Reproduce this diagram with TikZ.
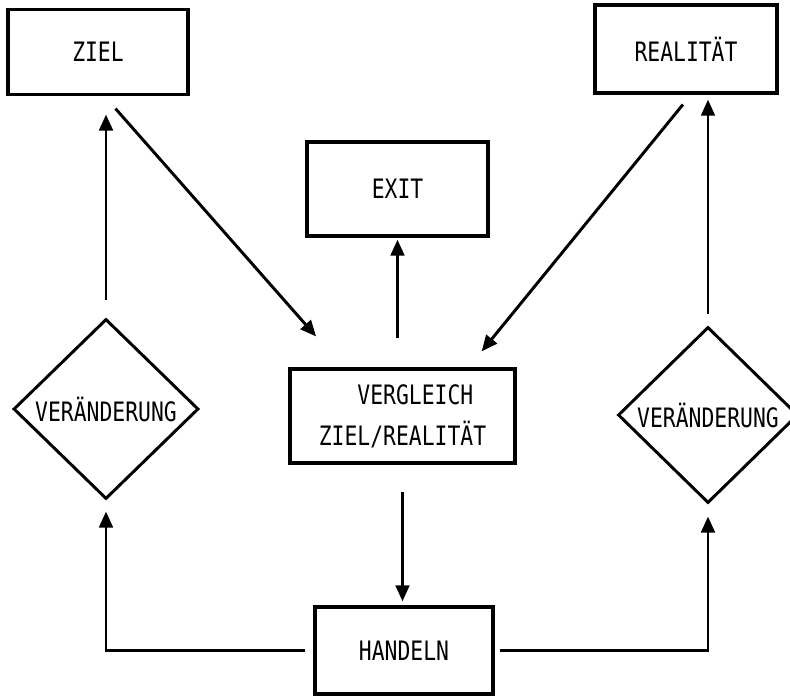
\documentclass[tikz,border=0pt]{standalone}
\usepackage{fontspec}
\newfontfamily\plotfont[FakeStretch=0.8]{DejaVu Sans Mono}
\usetikzlibrary{shapes.geometric,arrows.meta,calc}

\begin{document}
\begin{tikzpicture}[x=0.025cm, y=-0.025cm, line width=2.1pt,
        every node/.style={font=\plotfont\fontsize{19pt}{29pt}\selectfont},
        boxnode/.style={draw, rectangle, line width=2.3pt, inner sep=0pt},
        rhomb/.style={draw, diamond, inner sep=0pt},
        arr/.style={-{Triangle[length=0.4cm,width=0.34cm]}}]
      \useasboundingbox (0,0) rectangle (790,697);
      \node[boxnode, minimum width=4.5cm, minimum height=2.125cm] (ziel) at (98,52) {ZIEL};
      \node[boxnode, minimum width=4.55cm, minimum height=2.2cm] (realitaet) at (686,49) {REALITÄT};
      \node[boxnode, minimum width=4.525cm, minimum height=2.35cm] (exit) at (397.5,189) {EXIT};
      \node[boxnode, minimum width=5.625cm, minimum height=2.35cm, align=left] (vergleich) at (402.5,416)
            {\phantom{XXX}VERGLEICH\\ZIEL/REALITÄT};
      \node[boxnode, minimum width=4.45cm, minimum height=2.175cm] (handeln) at (404,650.5) {HANDELN};
      \node[rhomb, minimum width=4.625cm, minimum height=4.5cm] (vl) at (106,409) {VERÄNDERUNG};
      \node[rhomb, minimum width=4.5cm, minimum height=4.4cm] (vr) at (708,415) {VERÄNDERUNG};
      \draw[arr, shorten <=0.425cm, shorten >=0.46cm] (vl.north) -- (vl.north |- ziel.south);
      \draw[arr, shorten <=0.415cm, shorten >=1.03cm] ($(ziel.south)+(6.5,0)$) -- ($(vergleich.north west)+(55,0)$);
      \draw[arr, shorten <=0.32cm, shorten >=0.515cm] ($(realitaet.south)+(5,0)$) -- ($(vergleich.north east)+(-48,0)$);
      \draw[arr, shorten <=0.725cm, shorten >=0.05cm] (exit.south |- vergleich.north) -- (exit.south);
      \draw[arr, shorten <=0.675cm, shorten >=0.1cm] (vergleich.south) -- (vergleich.south |- handeln.north);
      \draw[arr, shorten <=0.2cm, shorten >=0.275cm] (handeln.west) -| (vl.south);
      \draw[arr, shorten <=0.125cm, shorten >=0.3cm] (handeln.east) -| (vr.south);
      \draw[arr, shorten <=0.3cm, shorten >=0.125cm] (vr.north) -- (vr.north |- realitaet.south);
\end{tikzpicture}
\end{document}
